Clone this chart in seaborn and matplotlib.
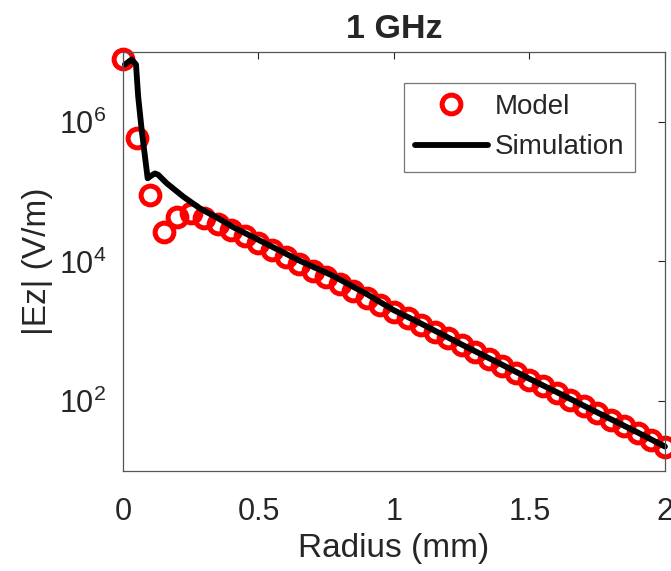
import numpy as np
import pandas as pd
import seaborn as sns
import matplotlib.pyplot as plt
from matplotlib.ticker import NullLocator

# Model: radius (mm) and |Ez| (V/m)
model_r = [0.00, 0.05, 0.10, 0.15, 0.20, 0.25, 0.30, 0.35, 0.40, 0.45,
           0.50, 0.55, 0.60, 0.65, 0.70, 0.75, 0.80, 0.85, 0.90, 0.95,
           1.00, 1.05, 1.10, 1.15, 1.20, 1.25, 1.30, 1.35, 1.40, 1.45,
           1.50, 1.55, 1.60, 1.65, 1.70, 1.75, 1.80, 1.85, 1.90, 1.95, 2.00]
model_ez = [7.8e6, 5.9e5, 8.9e4, 2.6e4, 4.3e4, 4.9e4, 4.2e4, 3.4e4, 2.8e4, 2.3e4,
            1.82e4, 1.45e4, 1.17e4, 9.3e3, 7.4e3, 5.9e3, 4.8e3, 3.8e3, 3.0e3, 2.4e3,
            1.9e3, 1.55e3, 1.23e3, 980, 790, 630, 500, 400, 320, 257,
            204, 166, 132, 105, 85, 68, 54, 44, 35, 27.5, 22]

# Simulation
sim_r = [0.007, 0.032, 0.048, 0.056, 0.069, 0.081, 0.091, 0.105, 0.118, 0.13,
         0.161, 0.222, 0.284, 0.35, 0.407, 0.53, 0.653, 0.776, 0.9, 1.0,
         1.1, 1.25, 1.4, 1.5, 1.6, 1.75, 1.9, 2.0]
sim_ez = [6.6e6, 7.8e6, 6.6e6, 2.3e6, 7.6e5, 3.2e5, 1.55e5, 1.7e5, 1.82e5, 1.74e5,
          1.32e5, 8.5e4, 5.75e4, 4.17e4, 3.09e4, 1.78e4, 1.02e4, 6.2e3, 3.4e3, 2.0e3,
          1.29e3, 646, 331, 209, 135, 69, 35.5, 22.4]

sns.set_style("white")
plt.rcParams['font.family'] = ['Liberation Sans', 'DejaVu Sans']
plt.rcParams['mathtext.default'] = 'regular'

fig = plt.figure(figsize=(6.71, 5.71), dpi=100)
ax = fig.add_axes([0.1833, 0.1751, 0.8077, 0.734])

model = pd.DataFrame({"r": model_r, "ez": model_ez})
sim = pd.DataFrame({"r": sim_r, "ez": sim_ez})

sns.lineplot(data=model, x="r", y="ez", ax=ax, linestyle="none", marker="o",
             markersize=13.5, markerfacecolor="none", markeredgecolor="red",
             markeredgewidth=3.6, label="Model", sort=False, clip_on=False)
sns.lineplot(data=sim, x="r", y="ez", ax=ax, color="black", linewidth=4.2,
             label="Simulation", sort=False, clip_on=False)

ax.set_yscale("log")
ax.set_xlim(0, 2)
ax.set_ylim(10, 1e7)
ax.set_xticks([0, 0.5, 1, 1.5, 2])
ax.set_xticklabels(["0", "0.5", "1", "1.5", "2"])
ax.set_yticks([1e2, 1e4, 1e6])
ax.set_yticklabels([r"$10^{2}$", r"$10^{4}$", r"$10^{6}$"])
ax.yaxis.set_minor_locator(NullLocator())

ax.tick_params(axis="both", which="major", direction="in", length=5, width=0.8,
               labelsize=22, colors="#262626", top=True, right=True)
ax.tick_params(axis="x", pad=19)
ax.tick_params(axis="y", pad=12)
for s in ax.spines.values():
    s.set_color("#555555")
    s.set_linewidth(0.9)

ax.set_xlabel("Radius (mm)", fontsize=24, color="#262626", labelpad=4)
ax.set_ylabel("|Ez| (V/m)", fontsize=24, color="#262626", labelpad=4)
ax.set_title("1 GHz", fontsize=24.5, fontweight="bold", pad=10)

leg = ax.legend(loc="upper right", bbox_to_anchor=(0.945, 0.926), borderaxespad=0,
                fontsize=20, frameon=True, fancybox=False, handlelength=2.6,
                handletextpad=0.25, borderpad=0.4, labelspacing=0.52)
leg.get_frame().set_edgecolor("#555555")
leg.get_frame().set_linewidth(0.9)

fig.savefig("out.png", dpi=100)
